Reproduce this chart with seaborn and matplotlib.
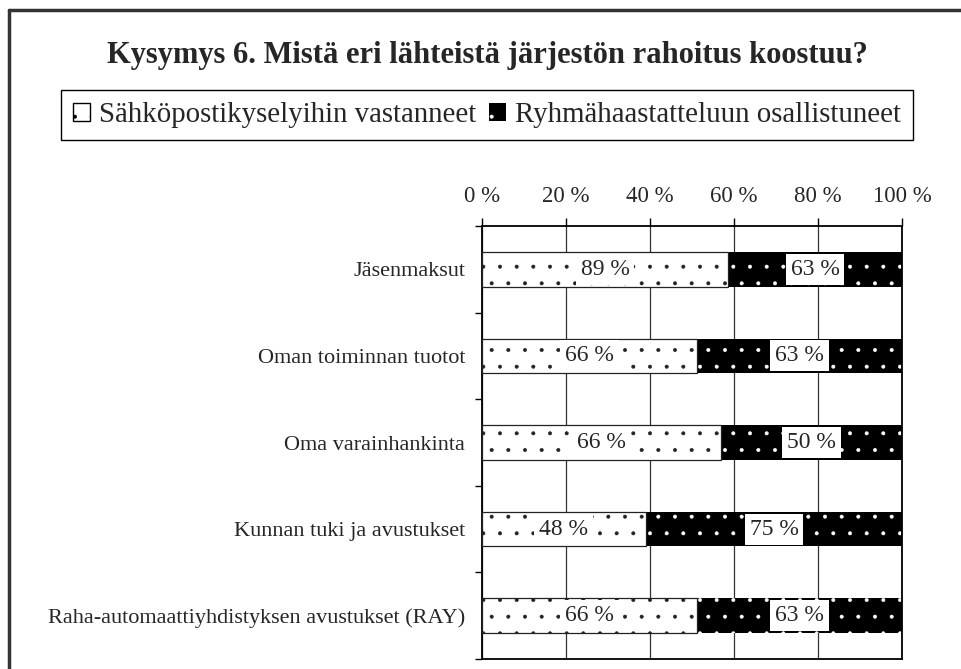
import pandas as pd
import seaborn as sns
import matplotlib.pyplot as plt
import matplotlib.patches as mpatches
from matplotlib.lines import Line2D

# Data
categories = ['Jäsenmaksut', 'Oman toiminnan tuotot', 'Oma varainhankinta',
              'Kunnan tuki ja avustukset', 'Raha-automaattiyhdistyksen avustukset (RAY)']
email_pct = [89, 66, 66, 48, 66]      # Sähköpostikyselyihin vastanneet
group_pct = [63, 63, 50, 75, 63]      # Ryhmähaastatteluun osallistuneet
series_names = ['Sähköpostikyselyihin vastanneet', 'Ryhmähaastatteluun osallistuneet']
x_ticks = [0, 20, 40, 60, 80, 100]

sns.set_style('ticks')
plt.rcParams['font.family'] = ['Liberation Serif', 'DejaVu Serif']
plt.rcParams['hatch.linewidth'] = 0.4

# 100 % stacked -> share of each series inside the bar
df = pd.DataFrame({'cat': categories, 'email': email_pct, 'group': group_pct})
df['email_share'] = df['email'] / (df['email'] + df['group']) * 100
df['full'] = 100.0

fig = plt.figure(figsize=(9.61, 6.69), dpi=100)
ax = fig.add_axes([482 / 961, 1 - 659 / 669, 420 / 961, 433 / 669])

# black series first over whole width, white series on top of it
sns.barplot(data=df, x='full', y='cat', orient='h', color='black', width=0.4, ax=ax, zorder=2)
n_black = len(ax.patches)
sns.barplot(data=df, x='email_share', y='cat', orient='h', color='white', width=0.4, ax=ax, zorder=3)
for i, p in enumerate(ax.patches):
    p.set_hatch('.')
    if i < n_black:
        p.set_facecolor('black')
        p.set_edgecolor('white')
        p.set_linewidth(0)
    else:
        p.set_facecolor('white')
        p.set_edgecolor('#222222')
        p.set_linewidth(0.9)

# value labels in white boxes
for i, row in df.iterrows():
    ax.text(row['email_share'] / 2, i, f"{row['email']} %", ha='center', va='center',
            fontsize=17, zorder=5, bbox=dict(facecolor='white', edgecolor='none', pad=3.5))
    ax.text((row['email_share'] + 100) / 2, i, f"{row['group']} %", ha='center', va='center',
            fontsize=17, zorder=5, bbox=dict(facecolor='white', edgecolor='none', pad=3.5))

ax.set_xlim(0, 100)
ax.set_ylim(len(categories) - 0.5, -0.5)
ax.set_xticks(x_ticks)
ax.set_xticklabels([f'{v} %' for v in x_ticks])
ax.xaxis.tick_top()
ax.tick_params(axis='x', length=6, width=1, pad=8, labelsize=16.5, color='black')
ax.set_yticks(range(len(categories)))
ax.set_yticklabels(categories)
ax.set_yticks([i - 0.5 for i in range(len(categories) + 1)], minor=True)
ax.tick_params(axis='y', which='major', length=0, pad=12, labelsize=16)
ax.tick_params(axis='y', which='minor', length=5, width=1, color='black')
ax.set_xlabel('')
ax.set_ylabel('')
ax.grid(axis='x', color='#333333', lw=0.9)
ax.set_axisbelow(True)
for s in ax.spines.values():
    s.set_visible(True)
    s.set_color('black')
    s.set_linewidth(1.3)

fig.text(487 / 961, 1 - 55 / 669, 'Kysymys 6. Mistä eri lähteistä järjestön rahoitus koostuu?',
         ha='center', va='center', fontsize=22, fontweight='bold')

handles = [mpatches.Patch(facecolor='white', edgecolor='black', hatch='.', lw=1),
           mpatches.Patch(facecolor='black', edgecolor='white', hatch='.', lw=0)]
fig.legend(handles, series_names, loc='center', bbox_to_anchor=(487 / 961, 1 - 115 / 669), ncol=2,
           fontsize=20.8, frameon=True, fancybox=False, edgecolor='black', framealpha=1,
           handlelength=0.6, handleheight=0.6, handletextpad=0.32, columnspacing=0.42, borderpad=0.4)

# dark border of the picture (top and left)
fig.add_artist(Line2D([9 / 961, 1], [1 - 10 / 669] * 2, color='#333333', lw=2.5, transform=fig.transFigure))
fig.add_artist(Line2D([9 / 961] * 2, [0, 1 - 10 / 669], color='#333333', lw=2.5, transform=fig.transFigure))

fig.savefig('out.png', dpi=100)
